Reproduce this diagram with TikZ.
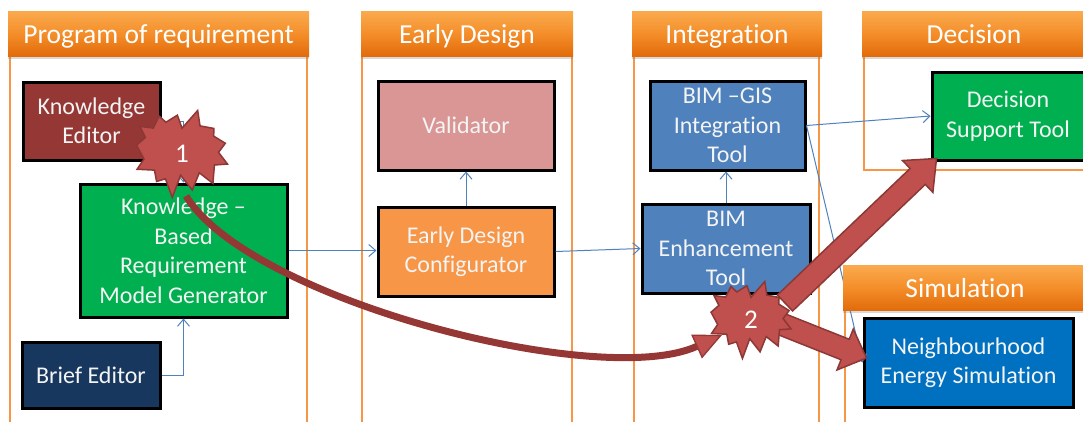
\documentclass[tikz,border=0pt]{standalone}
\usepackage{fontspec}
\setmainfont{Carlito}[Ligatures=NoCommon]
\usetikzlibrary{arrows.meta,calc,shadows}

\definecolor{hdrtop}{HTML}{FAAA4E}
\definecolor{hdrmid}{HTML}{F48E2A}
\definecolor{hdrbot}{HTML}{E26B0A}
\definecolor{laneline}{HTML}{F79646}
\definecolor{kefill}{HTML}{953735}
\definecolor{kbfill}{HTML}{00B050}
\definecolor{befill}{HTML}{17375E}
\definecolor{valfill}{HTML}{D99694}
\definecolor{edcfill}{HTML}{F79646}
\definecolor{bimfill}{HTML}{4F81BD}
\definecolor{nesfill}{HTML}{0070C0}
\definecolor{linkblue}{HTML}{4F81BD}
\definecolor{redfill}{HTML}{C0504D}
\definecolor{reddark}{HTML}{8C3836}
\definecolor{curvecol}{HTML}{953735}
\definecolor{boxtext}{HTML}{F4F4F4}

% outline of an "explosion" burst, centred on the origin
\newcommand\burstoutline{(0,-64) -- (37.22,-108) -- (42.8,-69.8) -- (75.80,-63.43) -- (75.2,-44.4) -- (102.97,-26.63) -- (86.8,-4.1) -- (108,24.90) -- (77.0,27.3) -- (73.45,72.95) -- (41.1,46.6) -- (24.47,89.37) -- (-3.4,52.7) -- (-23.15,108) -- (-39.3,61.5) -- (-60.38,68.17) -- (-65.4,40.0) -- (-106.65,37.87) -- (-90.2,12.4) -- (-108,-21.85) -- (-86.9,-41.1) -- (-100.18,-68.65) -- (-68.5,-64.3) -- (-54.20,-94.15) -- (-38.3,-78.7) -- (-10.95,-96.35) -- cycle}

\begin{document}
\begin{tikzpicture}[x=1pt,y=-1pt,
  lane/.style={draw=laneline,line width=2.5pt},
  header/.style={rectangle,inner sep=0pt,minimum height=45pt,
    text height=19pt,text depth=0pt,
    top color=hdrtop,bottom color=hdrbot,middle color=hdrmid,
    drop shadow={opacity=0.3,shadow xshift=0pt,shadow yshift=-2.5pt},
    text=white,font=\fontsize{27.5}{33}\selectfont},
  box/.style={rectangle,draw=black,line width=3pt,inner sep=0pt,align=center,
    text=boxtext,font=\fontsize{24}{29.5}\selectfont},
  link/.style={draw=linkblue,line width=1pt,-{Straight Barb[length=7pt,width=12pt]}},
  burst/.style={fill=redfill,draw=reddark,line width=1.5pt,line join=miter},
  burstlabel/.style={inner sep=0pt,text=white,font=\fontsize{27}{32}\selectfont},
  bigarrow/.style={fill=redfill,draw=reddark,line width=1.5pt,line join=miter},
  swoop/.style={draw=curvecol,line width=7pt,
    -{Triangle[length=28pt,width=26pt,fill=redfill,line width=1.3pt]}}
]
\useasboundingbox (0,0) rectangle (1083,421);
\clip (0,0) rectangle (1083,421);

% lane bodies
\draw[lane] (10,56) -- (10,430);
\draw[lane] (307,56) -- (307,430);
\draw[lane] (362,56) -- (362,430);
\draw[lane] (572,56) -- (572,430);
\draw[lane] (634,56) -- (634,430);
\draw[lane] (819,56) -- (819,430);
\draw[lane] (864,56) -- (864,170) -- (1095,170);
\draw[lane] (845,310) -- (845,430);

% tool boxes
\node[box,fill=kefill,minimum width=137pt,minimum height=78pt] (ke) at (91.5,121) {Knowledge\\Editor};
\node[box,fill=kbfill,minimum width=207pt,minimum height=133pt] (kb) at (183.5,250.5) {Knowledge --\\Based\\Requirement\\Model Generator};
\node[box,fill=befill,minimum width=138pt,minimum height=66pt] (be) at (91,375) {Brief Editor};
\node[box,fill=valfill,minimum width=176pt,minimum height=89pt] (val) at (466,125.5) {Validator};
\node[box,fill=edcfill,minimum width=176pt,minimum height=89pt] (edc) at (466,251.5) {Early Design\\Configurator};
\node[box,fill=bimfill,minimum width=155pt,minimum height=89pt] (gis) at (727.5,125.5) {BIM --GIS\\Integration\\Tool};
\node[box,fill=bimfill,minimum width=168pt,minimum height=89pt] (enh) at (726,248.5) {BIM\\Enhancement\\Tool};
\node[box,fill=kbfill,minimum width=152pt,minimum height=88pt] (dst) at (1008,116) {Decision\\Support Tool};
\node[box,fill=nesfill,minimum width=209pt,minimum height=89pt] (nes) at (968.5,362.5) {Neighbourhood\\Energy Simulation};

% data flow between the tools
\draw[link] (ke.east) -| (kb.north);
\draw[link] (be.east) -| (kb.south);
\draw[link] (kb.east) -- (kb.east -| edc.west);
\draw[link] (edc.north) -- (val.south);
\draw[link] (edc.east) -- (enh.west);
\draw[link] (enh.north) -- (enh.north |- gis.south);
\draw[link] (gis.east) -- (dst.west);
\draw[link] (gis.east) -- (nes.west);

% lane headers
\node[header,minimum width=301pt] (h1) at (158.5,33.5) {Program of requirement};
\node[header,minimum width=212pt] (h2) at (467,33.5) {Early Design};
\node[header,minimum width=190pt] (h3) at (727,33.5) {Integration};
\node[header,minimum width=224pt] (h4) at (974,33.5) {Decision};
\node[header,minimum width=244pt] (h5) at (965,287.5) {Simulation};

% burst markers (positions)
\node[burstlabel] (s1) at (182,154) {\phantom{1}};
\node[burstlabel] (s2) at (751,320) {\phantom{2}};

% sweeping arrow from step 1 to step 2
\coordinate (c0) at ($(s1)+(4,42)$);
\coordinate (c3) at ($(s2)+(-29,15)$);
\draw[swoop] (c0) .. controls (250,300) and (600,390) .. (c3);

% broad arrows out of step 2
\coordinate (d0) at ($(s2)+(34,-17)$);
\coordinate (dtip) at ($(dst.south west)+(6,-3)$);
\coordinate (dh) at ($(dtip)!26pt!(d0)$);
\filldraw[bigarrow] ($(d0)!11pt!90:(dtip)$) -- ($(dh)!11pt!90:(dtip)$) -- ($(dh)!22pt!90:(dtip)$) -- (dtip)
  -- ($(dh)!22pt!-90:(dtip)$) -- ($(dh)!11pt!-90:(dtip)$) -- ($(d0)!11pt!-90:(dtip)$) -- cycle;

\coordinate (n0) at ($(s2)+(30,4)$);
\coordinate (ntip) at ($(nes.west)+(4,-4.5)$);
\coordinate (nh) at ($(ntip)!23pt!(n0)$);
\filldraw[bigarrow] ($(n0)!11pt!90:(ntip)$) -- ($(nh)!11pt!90:(ntip)$) -- ($(nh)!22pt!90:(ntip)$) -- (ntip)
  -- ($(nh)!22pt!-90:(ntip)$) -- ($(nh)!11pt!-90:(ntip)$) -- ($(n0)!11pt!-90:(ntip)$) -- cycle;

% bursts
\filldraw[burst,shift={(s1.center)},xscale=0.421,yscale=0.403] \burstoutline;
\filldraw[burst,shift={(s2.center)},xscale=0.370,yscale=0.356] \burstoutline;
\node[burstlabel] at (s1) {1};
\node[burstlabel] at (s2) {2};
\end{tikzpicture}
\end{document}
